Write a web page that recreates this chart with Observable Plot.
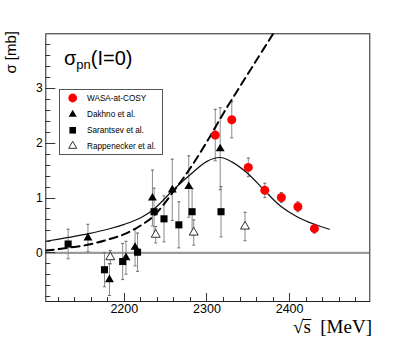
<!DOCTYPE html>
<html><head><meta charset="utf-8">
<script src="https://cdn.jsdelivr.net/npm/d3@7"></script>
<script src="https://cdn.jsdelivr.net/npm/@observablehq/plot@0.6"></script>
<style>body{margin:0;background:#fff}#chart{width:411px;height:339px}</style>
</head><body><div id="chart"></div>
<script>
// ---- data ----
const xDomain = [2105, 2497];
const yDomain = [-0.89, 4.0];
const xMajorTicks = [2200, 2300, 2400];
const yMajorTicks = [0, 1, 2, 3];

const wasaX = [2310, 2330, 2350, 2370, 2390, 2410, 2430];
const wasaY = [2.15, 2.43, 1.56, 1.14, 1.01, 0.84, 0.44];
const wasaErr = [0.47, 0.33, 0.17, 0.13, 0.09, 0.09, 0.08];

const dakhnoX = [2156, 2182, 2202, 2213, 2234, 2258, 2278, 2316];
const dakhnoY = [0.27, -0.49, -0.09, 0.10, 1.00, 1.15, 1.21, 1.90];
const dakhnoErr = [0.25, 0.29, 0.30, 0.34, 0.51, 0.56, 0.56, 0.75];

const sarantsevX = [2132, 2176, 2198, 2216, 2236, 2248, 2266, 2282, 2317];
const sarantsevY = [0.16, -0.31, -0.16, 0.01, 0.75, 0.62, 0.51, 0.75, 0.75];
const sarantsevErr = [0.27, 0.31, 0.33, 0.35, 0.43, 0.42, 0.42, 0.42, 0.46];

const rappX = [2183, 2238, 2284, 2346];
const rappY = [-0.08, 0.33, 0.37, 0.48];
const rappErr = [0.12, 0.15, 0.23, 0.26];

const solidX = [2105, 2132, 2157, 2180, 2200, 2220, 2236, 2260, 2280, 2300, 2316, 2330, 2350, 2370, 2390, 2410, 2430, 2448];
const solidY = [0.21, 0.28, 0.35, 0.43, 0.52, 0.64, 0.80, 1.16, 1.43, 1.67, 1.74, 1.66, 1.44, 1.13, 0.84, 0.65, 0.52, 0.43];

const dashX = [2105, 2132, 2157, 2180, 2200, 2220, 2236, 2260, 2280, 2300, 2320, 2340, 2360, 2380];
const dashY = [0.04, 0.09, 0.15, 0.24, 0.34, 0.50, 0.68, 1.13, 1.55, 2.03, 2.55, 3.04, 3.52, 4.0];

const legendLabels = ["WASA-at-COSY", "Dakhno et al.", "Sarantsev et al.", "Rappenecker et al."];

// ---- build tables ----
const rows = (xs, ys, es) => xs.map((x, i) => ({x, y: ys[i], lo: ys[i] - es[i], hi: ys[i] + es[i]}));
const wasa = rows(wasaX, wasaY, wasaErr);
const dakhno = rows(dakhnoX, dakhnoY, dakhnoErr);
const sarantsev = rows(sarantsevX, sarantsevY, sarantsevErr);
const rapp = rows(rappX, rappY, rappErr);
const all = [...dakhno, ...sarantsev, ...rapp, ...wasa];
const solid = solidX.map((x, i) => ({x, y: solidY[i]}));
const dashed = dashX.map((x, i) => ({x, y: dashY[i]}));
const minorX = d3.range(2120, 2497, 20);
const minorY = d3.range(-8, 39, 2).map(v => v / 10);

const capSym = {draw(ctx, size) { const r = Math.sqrt(size / Math.PI); ctx.moveTo(-r, 0); ctx.lineTo(r, 0); }};
const sans = "Liberation Sans, Arial, Helvetica, sans-serif";

const plot = Plot.plot({
  width: 411, height: 339,
  marginLeft: 45.3, marginRight: 41.7, marginTop: 33.3, marginBottom: 38,
  x: {domain: xDomain},
  y: {domain: yDomain},
  style: {background: "white", fontFamily: sans, fontSize: "12px", overflow: "visible", color: "black"},
  marks: [
    Plot.ruleY([0], {stroke: "#9a9a9a", strokeWidth: 2.2}),
    Plot.ruleX(all, {x: "x", y1: "lo", y2: "hi", stroke: "#8a8a8a", strokeWidth: 1}),
    Plot.dot(all, {x: "x", y: "lo", symbol: capSym, r: 1.5, stroke: "#6a6a6a", strokeWidth: 1}),
    Plot.dot(all, {x: "x", y: "hi", symbol: capSym, r: 1.5, stroke: "#6a6a6a", strokeWidth: 1}),
    Plot.line(solid, {x: "x", y: "y", curve: "catmull-rom", stroke: "#111", strokeWidth: 1.2}),
    Plot.line(dashed, {x: "x", y: "y", curve: "catmull-rom", stroke: "#000", strokeWidth: 2, strokeDasharray: "8,5", clip: true}),
    Plot.dot(dakhno, {x: "x", y: "y", symbol: "triangle", r: 3.3, fill: "black"}),
    Plot.dot(sarantsev, {x: "x", y: "y", symbol: "square", r: 4, fill: "black"}),
    Plot.dot(rapp, {x: "x", y: "y", symbol: "triangle", r: 3.3, fill: "white", stroke: "black", strokeWidth: 0.8}),
    Plot.dot(wasa, {x: "x", y: "y", r: 4.5, fill: "#ff0000"}),
    Plot.frame({stroke: "#222", strokeWidth: 1}),
    Plot.axisY({ticks: yMajorTicks, tickSize: 0, tickPadding: 3, label: null, fontSize: 12, tickFormat: d => String(d)}),
    Plot.axisX({ticks: xMajorTicks, tickSize: 0, tickPadding: 3, label: null, fontSize: 12.5, tickFormat: d => String(d)})
  ]
});
document.getElementById("chart").appendChild(plot);

const svg = d3.select(plot);
const sx = v => plot.scale("x").apply(v);
const sy = v => plot.scale("y").apply(v);
const left = 45.3, bottom = 339 - 38;

// inward ROOT-style ticks, positioned through the plot's scales
const tg = svg.append("g").attr("stroke", "#333").attr("stroke-width", 1);
minorY.forEach(v => {
  const major = yMajorTicks.some(m => Math.abs(m - v) < 1e-9);
  const y = Math.round(sy(v)) + 0.5;
  tg.append("line").attr("x1", left).attr("x2", left + (major ? 10 : 5)).attr("y1", y).attr("y2", y);
});
minorX.forEach(v => {
  const major = xMajorTicks.includes(v);
  const x = Math.round(sx(v)) + 0.5;
  tg.append("line").attr("x1", x).attr("x2", x).attr("y1", bottom).attr("y2", bottom - (major ? 8 : 4));
});

// title
const t = svg.append("text").attr("x", 64).attr("y", 64.5).attr("font-size", 20).attr("font-family", sans)
  .attr("fill", "black").attr("text-anchor", "start");
t.append("tspan").text("σ");
t.append("tspan").attr("font-size", 13).attr("dy", 4.5).text("pn");
t.append("tspan").attr("dy", -4.5).text("(I=0)");

// y title
svg.append("text").attr("transform", "translate(16,31) rotate(-90)").attr("text-anchor", "end")
  .attr("font-size", 15).attr("font-family", sans).attr("fill", "black").text("σ [mb]");

// x title with radical overline
const xt = svg.append("text").attr("x", 372).attr("y", 332.5).attr("text-anchor", "end")
  .attr("font-size", 19).attr("font-family", "Liberation Serif, Times New Roman, serif").attr("fill", "black")
  .style("white-space", "pre").text("√s  [MeV]");
try {
  const n = xt.node();
  const x0 = n.getEndPositionOfChar(0).x - 0.5;
  const x1 = n.getEndPositionOfChar(1).x + 0.5;
  svg.append("line").attr("x1", x0).attr("x2", x1).attr("y1", 319.5).attr("y2", 319.5)
    .attr("stroke", "black").attr("stroke-width", 1);
} catch (e) {}

// legend
const lg = svg.append("g");
lg.append("rect").attr("x", 59.5).attr("y", 89.5).attr("width", 103).attr("height", 65)
  .attr("fill", "white").attr("stroke", "#555").attr("stroke-width", 1);
const rowY = [98, 114.3, 130.3, 146];
const legSym = [
  {type: d3.symbolCircle, r: 4.4, fill: "#ff0000", stroke: "none"},
  {type: d3.symbolTriangle, r: 3.0, fill: "black", stroke: "none"},
  {type: d3.symbolSquare, r: 3.7, fill: "black", stroke: "none"},
  {type: d3.symbolTriangle, r: 3.0, fill: "white", stroke: "black"}
];
legendLabels.forEach((lab, i) => {
  const s = legSym[i];
  lg.append("path").attr("transform", `translate(72.7,${rowY[i]})`)
    .attr("d", d3.symbol(s.type, Math.PI * s.r * s.r)())
    .attr("fill", s.fill).attr("stroke", s.stroke).attr("stroke-width", 0.8);
  lg.append("text").attr("x", 87).attr("y", rowY[i]).attr("dy", "0.35em").attr("text-anchor", "start")
    .attr("font-size", 8.2).attr("font-family", sans).attr("fill", "black").text(lab);
});
</script>
</body></html>
